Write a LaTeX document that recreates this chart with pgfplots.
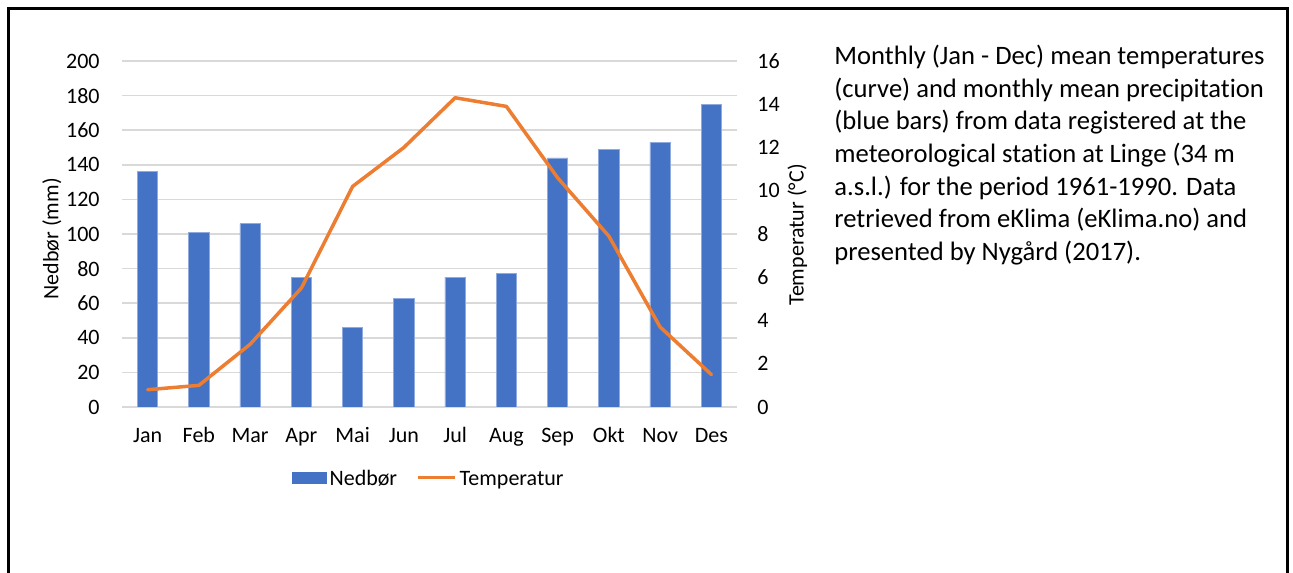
\documentclass[border=0pt]{standalone}
\usepackage{fontspec}
\setmainfont{Carlito}[Ligatures=NoCommon]
\usepackage{pgfplots}
\pgfplotsset{compat=1.18}
\definecolor{barblue}{HTML}{4472C4}
\definecolor{baredge}{HTML}{8FAADC}
\definecolor{lineorange}{HTML}{ED7D31}
\definecolor{gridgray}{HTML}{D9D9D9}
\begin{document}
\begin{tikzpicture}
\path[use as bounding box] (0,0) rectangle (646.5pt,286pt);
\begin{scope}
\clip (0,0) rectangle (646.5pt,286pt);
\draw[line width=1.5pt] (4.25pt,-20pt) -- (4.25pt,281.5pt) -- (643.75pt,281.5pt) -- (643.75pt,-20pt);
\end{scope}
\begin{axis}[
  at={(61pt,82.5pt)}, anchor=south west, scale only axis,
  width=307.5pt, height=173pt,
  ybar, bar width=10.15pt,
  xmin=-0.5, xmax=11.5, ymin=0, ymax=200,
  xtick={0,...,11},
  xticklabels={Jan,Feb,Mar,Apr,Mai,Jun,Jul,Aug,Sep,Okt,Nov,Des},
  ytick={0,20,...,200},
  ymajorgrids, grid style={gridgray, line width=0.75pt},
  axis line style={draw=none}, major tick length=0pt,
  tick label style={font=\fontsize{11}{13}\selectfont},
  /pgf/number format/assume math mode=true,
  yticklabel style={anchor=east, inner sep=0pt, xshift=-11pt},
  xticklabel style={anchor=base, inner sep=0pt, yshift=-18pt},
  ylabel={Nedbør (mm)},
  ylabel style={at={(axis description cs:-0.114,0.486)}, anchor=center, font=\fontsize{11}{13}\selectfont},
  legend columns=2,
  legend style={draw=none, fill=none, inner sep=0pt, outer sep=0pt,
    at={(axis description cs:0.2764,-0.208)}, anchor=west,
    font=\fontsize{11}{13}\selectfont,
    cells={anchor=base west},
    nodes={inner sep=1.5pt},
    /tikz/every even column/.append style={column sep=8pt}},
]
\addplot[fill=barblue, draw=baredge, line width=0.3pt,
  legend image code/.code={\fill[barblue] (0pt,0.95pt) rectangle (17pt,6.45pt);}]
  coordinates {(0,136) (1,101) (2,106) (3,75) (4,46) (5,63) (6,75) (7,77) (8,144) (9,149) (10,153) (11,175)};
\addlegendentry{Nedbør}
\addlegendimage{legend image code/.code={\draw[lineorange, line width=1.75pt] (0pt,3.7pt) -- (18.5pt,3.7pt);}}
\addlegendentry{Temperatur}
\end{axis}
\begin{axis}[
  at={(61pt,82.5pt)}, anchor=south west, scale only axis,
  width=307.5pt, height=173pt,
  xmin=-0.5, xmax=11.5, ymin=0, ymax=16,
  xtick=\empty,
  ytick={0,2,...,16},
  axis line style={draw=none}, major tick length=0pt,
  yticklabel pos=right,
  tick label style={font=\fontsize{11}{13}\selectfont},
  /pgf/number format/assume math mode=true,
  yticklabel style={anchor=west, inner sep=0pt, xshift=10pt},
  ylabel={Temperatur (°C)},
  ylabel style={at={(axis description cs:1.098,0.497)}, anchor=center, font=\fontsize{11}{13}\selectfont},
]
\addplot[lineorange, line width=1.75pt, line join=round, line cap=round]
  coordinates {(0,0.8) (1,1.0) (2,2.9) (3,5.5) (4,10.2) (5,12.0) (6,14.3) (7,13.9) (8,10.6) (9,7.9) (10,3.7) (11,1.5)};
\end{axis}
\begin{scope}[every node/.style={anchor=base west, inner sep=0pt, font=\fontsize{13.3}{16}\selectfont}]
\node at (417pt,253.8pt) {Monthly (Jan - Dec) mean temperatures};
\node at (417pt,237.45pt) {(curve) and monthly mean precipitation};
\node at (417pt,221.1pt) {(blue bars) from data registered at the};
\node at (417pt,204.75pt) {meteorological station at Linge (34 m};
\node at (417pt,188.4pt) {a.s.l.) for the period 1961-1990. Data};
\node at (417pt,172.05pt) {retrieved from eKlima (eKlima.no) and};
\node at (417pt,155.7pt) {presented by Nygård (2017).};
\end{scope}
\end{tikzpicture}
\end{document}
